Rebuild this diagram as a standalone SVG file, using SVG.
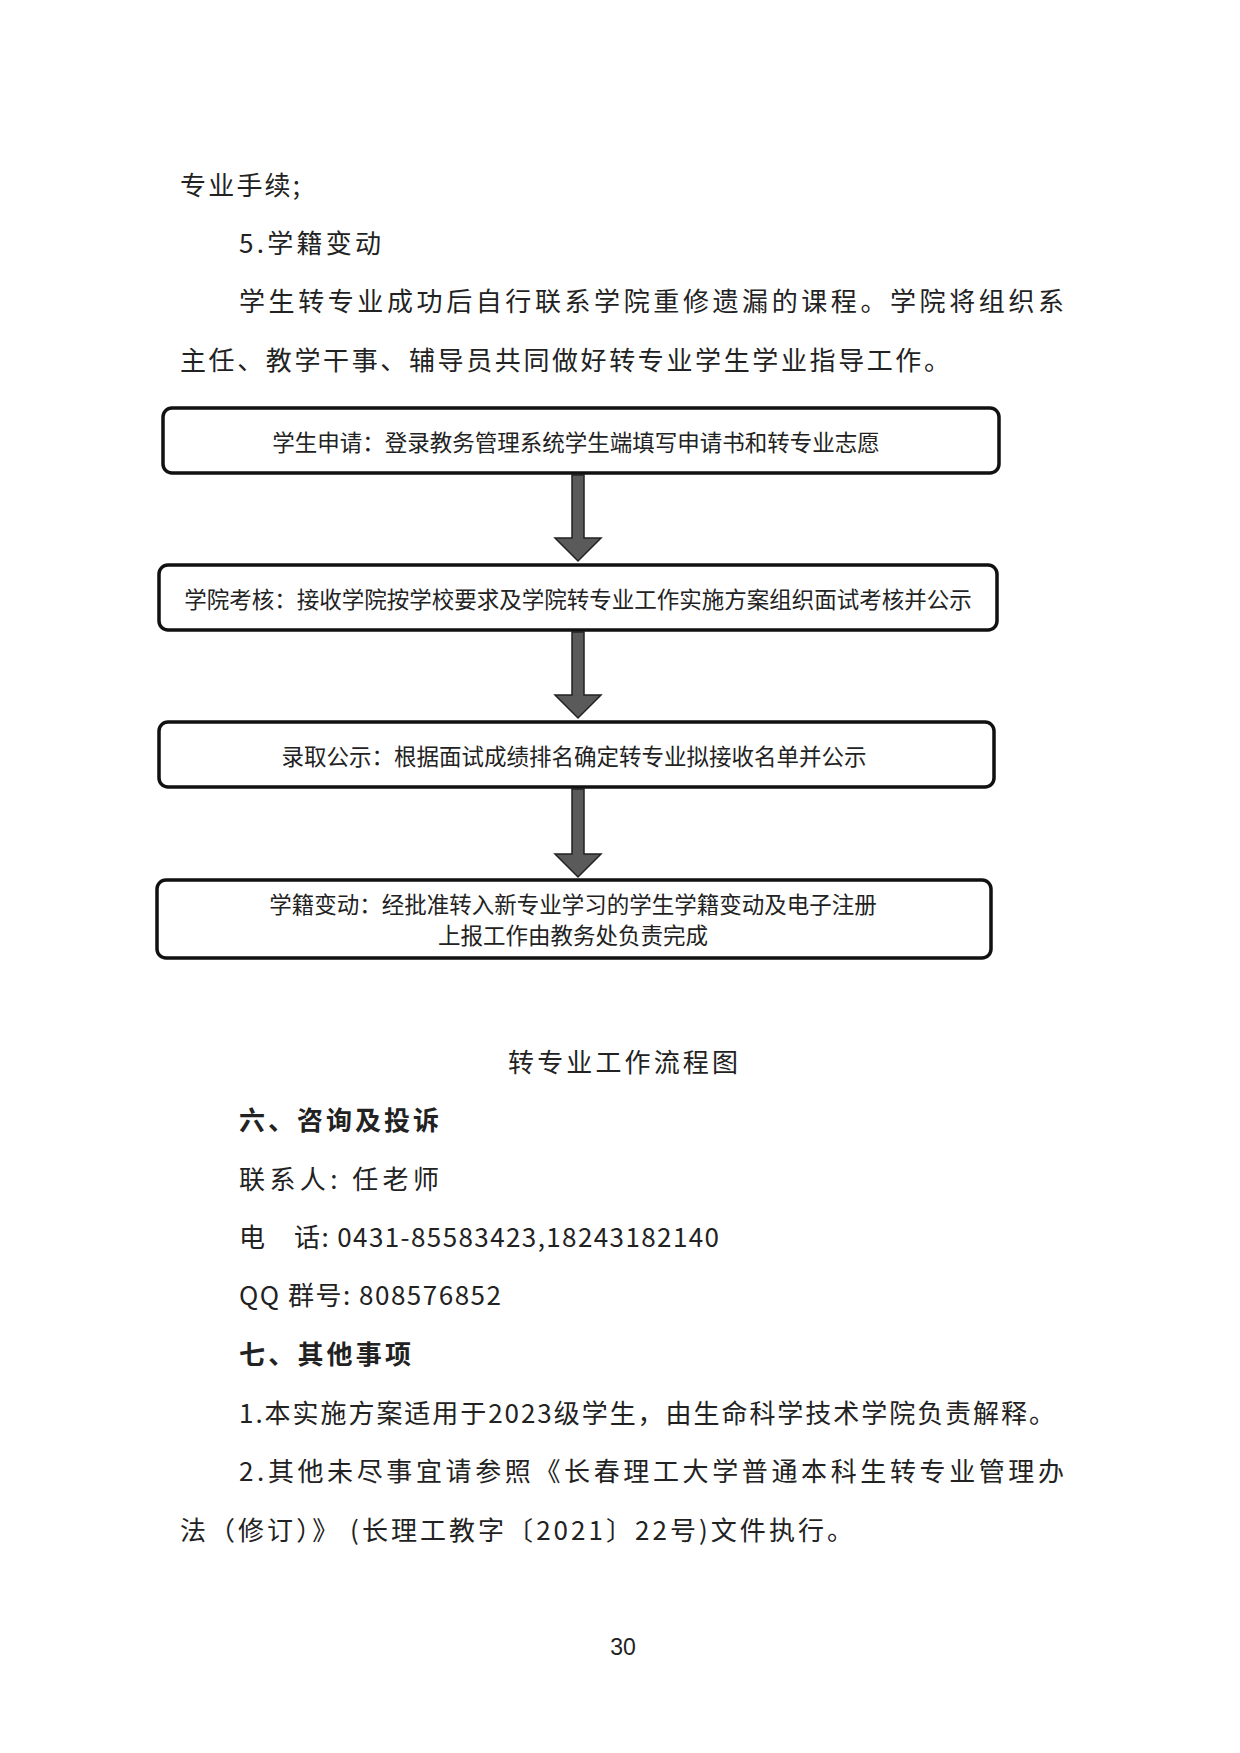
<svg xmlns="http://www.w3.org/2000/svg" width="1240" height="1753" viewBox="0 0 1240 1753">
<style>
.t{font-family:"Noto Sans CJK SC","Liberation Serif",sans-serif;font-size:26px;fill:#222}
.b{font-weight:bold}
.n{font-family:"Noto Sans CJK SC",sans-serif;font-size:22.5px;fill:#222;text-anchor:middle}
.box{fill:#fff;stroke:#111;stroke-width:3.5}
.arr{fill:#5a5a5a;stroke:#222;stroke-width:1.5}
</style>
<rect width="1240" height="1753" fill="#fff"/>
<text class="t" x="180" y="195" textLength="120">专业手续;</text>
<text class="t" x="239" y="253" textLength="142">5.学籍变动</text>
<text class="t" x="239" y="311" textLength="825" lengthAdjust="spacing">学生转专业成功后自行联系学院重修遗漏的课程。学院将组织系</text>
<text class="t" x="180" y="370" textLength="770" lengthAdjust="spacing">主任、教学干事、辅导员共同做好转专业学生学业指导工作。</text>
<g id="connectors">
<path class="arr" d="M572 475 H584 V538 H601 L578 561 L555 538 H572 Z"/>
<path class="arr" d="M572 632 H584 V695 H601 L578 718 L555 695 H572 Z"/>
<path class="arr" d="M572 789 H584 V854 H601 L578 877 L555 854 H572 Z"/>
</g>
<g id="n1"><rect class="box" x="163" y="408" width="836" height="65" rx="9"/><text class="n" x="576" y="451">学生申请：登录教务管理系统学生端填写申请书和转专业志愿</text></g>
<g id="n2"><rect class="box" x="159" y="565" width="838" height="65" rx="9"/><text class="n" x="578" y="608">学院考核：接收学院按学校要求及学院转专业工作实施方案组织面试考核并公示</text></g>
<g id="n3"><rect class="box" x="159" y="722" width="835" height="65" rx="9"/><text class="n" x="574" y="765">录取公示：根据面试成绩排名确定转专业拟接收名单并公示</text></g>
<g id="n4"><rect class="box" x="157" y="880" width="834" height="78" rx="9"/><text class="n" x="573" y="913">学籍变动：经批准转入新专业学习的学生学籍变动及电子注册</text><text class="n" x="573" y="944">上报工作由教务处负责完成</text></g>
<text class="t" x="623" y="1072" text-anchor="middle" textLength="230">转专业工作流程图</text>
<text class="t b" x="239" y="1130" textLength="200">六、咨询及投诉</text>
<text class="t" x="239" y="1189" textLength="200">联系人: 任老师</text>
<text class="t" x="239" y="1247">电</text>
<text class="t" x="294" y="1247" textLength="425" lengthAdjust="spacing">话: 0431-85583423,18243182140</text>
<text class="t" x="239" y="1305" textLength="262" lengthAdjust="spacing">QQ 群号: 808576852</text>
<text class="t b" x="239" y="1364" textLength="172">七、其他事项</text>
<text class="t" x="239" y="1423" textLength="816" lengthAdjust="spacing">1.本实施方案适用于2023级学生，由生命科学技术学院负责解释。</text>
<text class="t" x="239" y="1481" textLength="825" lengthAdjust="spacing">2.其他未尽事宜请参照《长春理工大学普通本科生转专业管理办</text>
<text class="t" x="180" y="1540" textLength="673" lengthAdjust="spacing">法（修订）》 (长理工教字〔2021〕22号)文件执行。</text>
<text x="623" y="1655" text-anchor="middle" font-family="Liberation Sans,sans-serif" font-size="23" fill="#222">30</text>
</svg>
